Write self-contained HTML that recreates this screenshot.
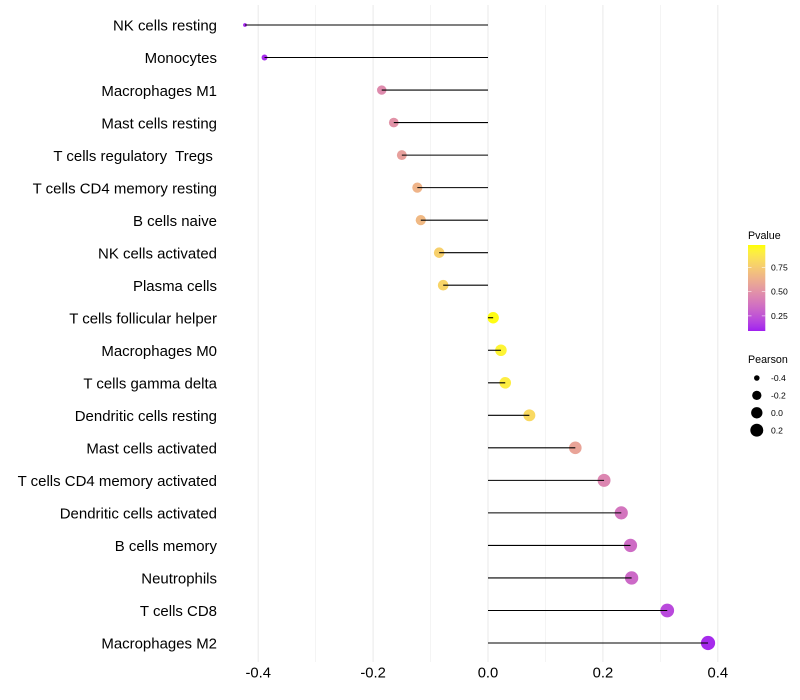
<!DOCTYPE html>
<html>
<head>
<meta charset="utf-8">
<title>Immune cell correlation lollipop chart</title>
<style>
html,body{margin:0;padding:0;background:#fff;width:800px;height:700px;overflow:hidden}
svg{display:block}
text{font-family:"Liberation Sans",sans-serif;white-space:pre}
</style>
</head>
<body>
<svg id="chart" xmlns="http://www.w3.org/2000/svg" width="800" height="700" viewBox="0 0 800 700"></svg>
<script>
const categories = ["NK cells resting","Monocytes","Macrophages M1","Mast cells resting","T cells regulatory  Tregs ","T cells CD4 memory resting","B cells naive","NK cells activated","Plasma cells","T cells follicular helper","Macrophages M0","T cells gamma delta","Dendritic cells resting","Mast cells activated","T cells CD4 memory activated","Dendritic cells activated","B cells memory","Neutrophils","T cells CD8","Macrophages M2"];
const pearson = [-0.423,-0.389,-0.185,-0.164,-0.150,-0.123,-0.117,-0.085,-0.078,0.009,0.0225,0.030,0.072,0.152,0.202,0.232,0.248,0.250,0.312,0.383];
const pvalue = [0.11,0.12,0.47,0.50,0.56,0.65,0.67,0.77,0.79,0.97,0.93,0.90,0.81,0.58,0.45,0.38,0.34,0.33,0.21,0.12];
const xMajorTicks = [-0.4,-0.2,0,0.2,0.4];
const xMinorTicks = [-0.3,-0.1,0.1,0.3];
const xTickLabels = ["-0.4","-0.2","0.0","0.2","0.4"];
const colorTicks = [0.75,0.50,0.25];
const colorTickLabels = ["0.75","0.50","0.25"];
const sizeTicks = [-0.4,-0.2,0,0.2];
const sizeTickLabels = ["-0.4","-0.2","0.0","0.2"];
const pLimits = [0.095,0.98];

const svg = document.getElementById('chart');
const NS = 'http://www.w3.org/2000/svg';
function make(tag, attrs, text){
  const el = document.createElementNS(NS, tag);
  for (const k in attrs) el.setAttribute(k, attrs[k]);
  if (text !== undefined) el.textContent = text;
  svg.appendChild(el);
  return el;
}
function xScale(v){ return 488 + v * 574.5; }
function yScale(i){ return 25 + i * (643 - 25) / (categories.length - 1); }
function legendY(p){ return 291.6 - (p - 0.5) * 97.2; }
function sizeScale(v){
  const lo = Math.min.apply(null, pearson), hi = Math.max.apply(null, pearson);
  const t = Math.max(0, (v - lo) / (hi - lo));
  return 1.9 + 5.2 * Math.sqrt(t);
}
function rgb2lab(c){
  const f = u => { u /= 255; return u > 0.04045 ? Math.pow((u + 0.055) / 1.055, 2.4) : u / 12.92; };
  const r = f(c[0]), g = f(c[1]), b = f(c[2]);
  const X = (0.4124*r + 0.3576*g + 0.1805*b) / 0.95047, Y = 0.2126*r + 0.7152*g + 0.0722*b, Z = (0.0193*r + 0.1192*g + 0.9505*b) / 1.08883;
  const h = t => t > 0.008856 ? Math.cbrt(t) : 7.787 * t + 16 / 116;
  return [116*h(Y) - 16, 500*(h(X) - h(Y)), 200*(h(Y) - h(Z))];
}
function lab2rgb(l){
  const fy = (l[0] + 16) / 116, fx = fy + l[1] / 500, fz = fy - l[2] / 200;
  const h = t => t*t*t > 0.008856 ? t*t*t : (t - 16/116) / 7.787;
  const X = h(fx) * 0.95047, Y = h(fy), Z = h(fz) * 1.08883;
  const lin = [3.2406*X - 1.5372*Y - 0.4986*Z, -0.9689*X + 1.8758*Y + 0.0415*Z, 0.0557*X - 0.2040*Y + 1.0570*Z];
  return lin.map(u => {
    u = Math.max(0, Math.min(1, u));
    u = u > 0.0031308 ? 1.055 * Math.pow(u, 1/2.4) - 0.055 : 12.92 * u;
    return Math.round(u * 255);
  });
}
const labLow = rgb2lab([160,32,240]);
const labHigh = rgb2lab([255,255,0]);
function colorScale(p){
  const t = Math.max(0, Math.min(1, (p - pLimits[0]) / (pLimits[1] - pLimits[0])));
  const c = lab2rgb(labLow.map((a, i) => a + (labHigh[i] - a) * t));
  return 'rgb(' + c.join(',') + ')';
}

/* gridlines */
xMinorTicks.forEach(v => {
  const g = make('line', {x1:xScale(v), x2:xScale(v), y1:5, y2:662, stroke:'#ebebeb', 'stroke-width':0.55});
  
  
});
xMajorTicks.forEach(v => {
  const g = make('line', {x1:xScale(v), x2:xScale(v), y1:5, y2:662, stroke:'#ebebeb', 'stroke-width':1.07});
  
  
});

/* points */
categories.forEach((c, i) => {
  const pt = make('circle', {cx:xScale(pearson[i]), cy:yScale(i), r:sizeScale(pearson[i]), fill:colorScale(pvalue[i])});
  
  
});

/* stems */
categories.forEach((c, i) => {
  const st = make('line', {x1:xScale(0), x2:xScale(pearson[i]), y1:yScale(i), y2:yScale(i), stroke:'#000', 'stroke-width':1.07});
  
  
});

/* y labels */
categories.forEach((c, i) => {
  const t = make('text', {x:217, y:yScale(i) + 5.7, 'text-anchor':'end', 'font-size':14.97, fill:'#000'}, c);
  
  
});

/* x labels */
xMajorTicks.forEach((v, i) => {
  const t = make('text', {x:xScale(v), y:677.5, 'text-anchor':'middle', 'font-size':14.8, fill:'#000'}, xTickLabels[i]);
  
  
});

/* colour legend */
const lt = make('text', {x:748, y:239, 'font-size':10.7, fill:'#000'}, 'Pvalue');


const defs = make('defs', {});
const grad = document.createElementNS(NS, 'linearGradient');
grad.setAttribute('id', 'pgrad');
grad.setAttribute('x1', '0'); grad.setAttribute('x2', '0'); grad.setAttribute('y1', '1'); grad.setAttribute('y2', '0');
for (let s = 0; s <= 20; s++){
  const stop = document.createElementNS(NS, 'stop');
  stop.setAttribute('offset', (s / 20));
  stop.setAttribute('stop-color', colorScale(pLimits[0] + (pLimits[1] - pLimits[0]) * s / 20));
  grad.appendChild(stop);
}
defs.appendChild(grad);
const bar = make('rect', {x:748, y:245, width:17.3, height:86, fill:'url(#pgrad)'});


colorTicks.forEach((p, i) => {
  const y = legendY(p);
  const a = make('line', {x1:748, x2:751.5, y1:y, y2:y, stroke:'#fff', 'stroke-width':0.55});
  
  
  const b = make('line', {x1:761.8, x2:765.3, y1:y, y2:y, stroke:'#fff', 'stroke-width':0.55});
  
  
  const t = make('text', {x:771, y:y + 3.1, 'font-size':8.6, fill:'#000'}, colorTickLabels[i]);
  
  
});

/* size legend */
const st = make('text', {x:748, y:363, 'font-size':10.7, fill:'#000'}, 'Pearson');


sizeTicks.forEach((v, i) => {
  const y = 378 + i * 17.4;
  const k = make('circle', {cx:756.8, cy:y, r:sizeScale(v), fill:'#000'});
  
  
  const t = make('text', {x:771, y:y + 3.1, 'font-size':8.6, fill:'#000'}, sizeTickLabels[i]);
  
  
});
</script>
</body>
</html>
